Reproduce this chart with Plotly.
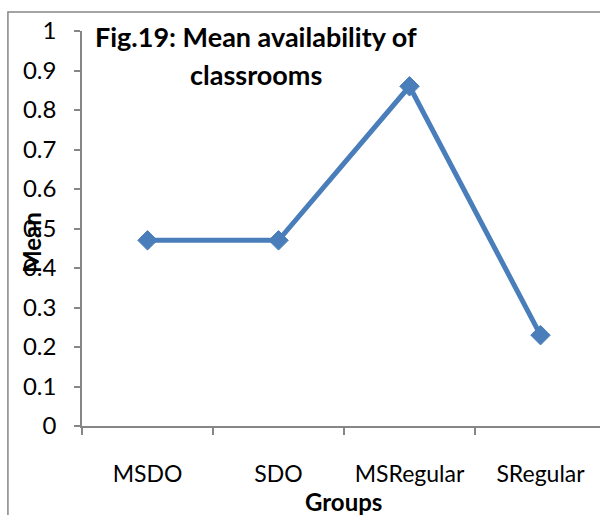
import plotly.graph_objects as go

# Group means for availability of classrooms
groups = ["MSDO", "SDO", "MSRegular", "SRegular"]
mean_values = [0.47, 0.47, 0.86, 0.23]
y_ticks = [0, 0.1, 0.2, 0.3, 0.4, 0.5, 0.6, 0.7, 0.8, 0.9, 1]
y_tick_labels = ["0", "0.1", "0.2", "0.3", "0.4", "0.5", "0.6", "0.7", "0.8", "0.9", "1"]
title_lines = ["Fig.19: Mean availability of", "classrooms"]

FONT = "Lato"
BLUE = "#4A7EBB"
GRAY = "#868686"

x_pos = list(range(len(groups)))

fig = go.Figure()
fig.add_trace(go.Scatter(
    x=x_pos, y=mean_values,
    mode="lines+markers",
    line=dict(color=BLUE, width=5),
    marker=dict(symbol="diamond", size=15, color=BLUE, line=dict(color=BLUE, width=1)),
    cliponaxis=False,
    showlegend=False,
))

fig.update_layout(
    width=600, height=515,
    margin=dict(l=82, r=0, t=31, b=89),
    paper_bgcolor="white", plot_bgcolor="white",
    font=dict(family=FONT, size=22, color="black"),
    xaxis=dict(
        range=[-0.5, 3.454],
        tickvals=x_pos, ticktext=groups,
        ticks="", showgrid=False, zeroline=False,
        showline=True, linecolor=GRAY, linewidth=1.5,
        ticklabelstandoff=27,
        tickfont=dict(family=FONT, size=23),
        minor=dict(tickvals=[-0.5, 0.5, 1.5, 2.5, 3.5], ticks="outside",
                   ticklen=7, tickcolor=GRAY, tickwidth=1.5, showgrid=False),
    ),
    yaxis=dict(
        range=[0, 1],
        tickvals=y_ticks, ticktext=y_tick_labels,
        ticks="outside", ticklen=6, tickcolor=GRAY, tickwidth=1.5,
        showgrid=False, zeroline=False,
        showline=True, linecolor=GRAY, linewidth=1.5,
        ticklabelstandoff=13,
        tickfont=dict(family=FONT, size=24),
    ),
)

# Outer chart frame
fig.add_shape(type="rect", xref="paper", yref="paper",
              x0=-0.143, x1=1.2, y0=-0.3, y1=1.048,
              line=dict(color=GRAY, width=1.5), fillcolor="rgba(0,0,0,0)", layer="below")

# Two-line chart title
for line_text, y_px in zip(title_lines, [37, 74]):
    fig.add_annotation(text=f"<b>{line_text}</b>",
                       xref="paper", yref="paper", x=(256 - 82) / 518, y=(426 - y_px) / 395,
                       showarrow=False, align="center", font=dict(family=FONT, size=27),
                       xanchor="center", yanchor="middle")
fig.add_annotation(text="<b>Mean</b>", xref="paper", yref="paper",
                   x=(31 - 82) / 518, y=(426 - 243) / 395, textangle=-90,
                   showarrow=False, font=dict(family=FONT, size=24),
                   xanchor="center", yanchor="middle")
fig.add_annotation(text="<b>Groups</b>", xref="paper", yref="paper",
                   x=(343 - 82) / 518, y=(426 - 501) / 395,
                   showarrow=False, font=dict(family=FONT, size=24),
                   xanchor="center", yanchor="middle")

fig.write_html("out.html")
